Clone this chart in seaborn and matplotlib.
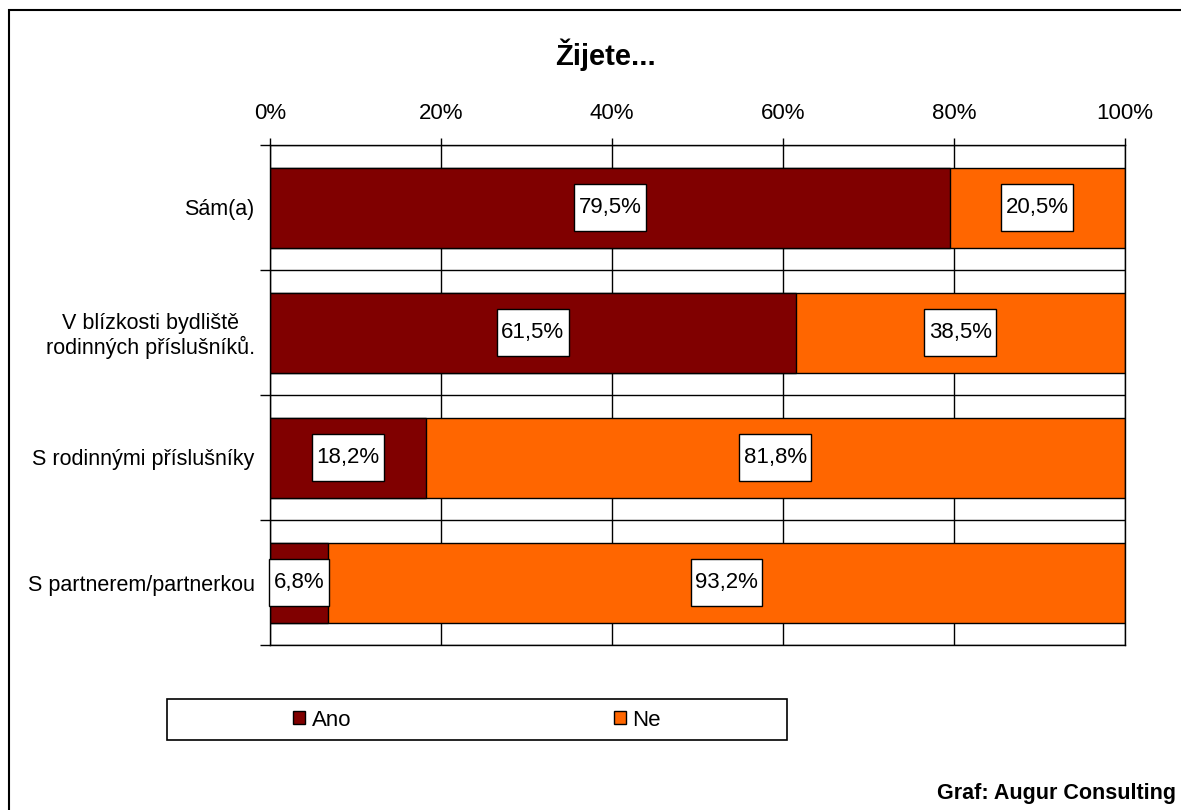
import matplotlib
matplotlib.use('Agg')
import numpy as np
import pandas as pd
import matplotlib.pyplot as plt
import seaborn as sns
from matplotlib.patches import Rectangle, Patch
from matplotlib.path import Path

# data
kategorie = ['Sám(a)', 'V blízkosti bydliště\nrodinných příslušníků.',
             'S rodinnými příslušníky', 'S partnerem/partnerkou']
ano = [79.5, 61.5, 18.2, 6.8]
ne = [20.5, 38.5, 81.8, 93.2]
x_ticks = [0, 20, 40, 60, 80, 100]

barva_ano = '#800000'
barva_ne = '#FF6600'

sns.set_theme(style='white')
plt.rcParams['font.family'] = ['Liberation Sans', 'DejaVu Sans']
plt.rcParams['text.color'] = 'black'
plt.rcParams['xtick.color'] = 'black'
plt.rcParams['ytick.color'] = 'black'
plt.rcParams['xtick.labelcolor'] = 'black'
plt.rcParams['ytick.labelcolor'] = 'black'

df = pd.DataFrame({'kategorie': kategorie, 'ano': ano, 'ne': ne})
df['celkem'] = df['ano'] + df['ne']

fig = plt.figure(figsize=(11.81, 8.10), dpi=100)
ax = fig.add_axes([270/1181, 1-645/810, 855/1181, 500/810])

# stacked bars: total (Ne) underneath, Ano on top
sns.barplot(data=df, y='kategorie', x='celkem', color=barva_ne, saturation=1,
            width=0.64, edgecolor='black', linewidth=1, orient='h', ax=ax)
sns.barplot(data=df, y='kategorie', x='ano', color=barva_ano, saturation=1,
            width=0.64, edgecolor='black', linewidth=1, orient='h', ax=ax)

ax.set_xlim(0, 100)
ax.set_ylim(len(kategorie) - 0.5, -0.5)
ax.set_xlabel('')
ax.set_ylabel('')

ax.xaxis.tick_top()
ax.set_xticks(x_ticks)
ax.set_xticklabels([f'{v}%' for v in x_ticks], fontsize=16)
ax.tick_params(axis='x', top=True, bottom=False, labeltop=True, labelbottom=False,
               length=5, width=1, direction='out', color='black', pad=10)

ax.set_yticks(range(len(kategorie)))
ax.set_yticklabels(kategorie, fontsize=15.5, linespacing=1.12, multialignment='center')
ax.set_yticks(np.arange(-0.5, len(kategorie), 1), minor=True)
ax.tick_params(axis='y', which='major', length=0, pad=11, left=False)
ax.tick_params(axis='y', which='minor', length=7, width=1, direction='out',
               color='black', left=True)

ax.set_axisbelow(True)
ax.grid(axis='x', which='major', color='black', linewidth=1)
ax.grid(axis='y', which='minor', color='black', linewidth=1)
ax.grid(axis='y', which='major', visible=False)
for s in ax.spines.values():
    s.set_color('black')
    s.set_linewidth(1)


def rámeček(x0, y0, width, height, mutation_size):
    px = 0.2 * mutation_size
    py = 0.6 * mutation_size
    return Path([(x0 - px, y0 - py), (x0 + width + px, y0 - py),
                 (x0 + width + px, y0 + height + py), (x0 - px, y0 + height + py),
                 (x0 - px, y0 - py)], closed=True)


for i, (a, n) in enumerate(zip(ano, ne)):
    for stred, hodnota in [(a / 2, a), (a + n / 2, n)]:
        ax.text(stred, i, f'{hodnota:.1f}%'.replace('.', ','), ha='center', va='center',
                fontsize=16, color='black', zorder=5,
                bbox=dict(boxstyle=rámeček, fc='white', ec='black', lw=1))

# title and footer
fig.text(605/1181, 1-55/810, 'Žijete...', ha='center', va='center',
         fontsize=21, fontweight='bold')
fig.text(1176/1181, 1-793/810, 'Graf: Augur Consulting', ha='right', va='center',
         fontsize=15.5, fontweight='bold')

# legend
handles = [Patch(facecolor=barva_ano, edgecolor='black', linewidth=1),
           Patch(facecolor=barva_ne, edgecolor='black', linewidth=1)]
fig.legend(handles, ['Ano', 'Ne'], loc='center', bbox_to_anchor=(477/1181, 1-720/810),
           ncol=2, frameon=False, fontsize=16, handlelength=0.55, handleheight=0.55,
           handletextpad=0.3, columnspacing=11.8)
fig.patches.append(Rectangle((167/1181, 1-740/810), 620/1181, 41/810,
                             transform=fig.transFigure, fill=False,
                             edgecolor='black', linewidth=1.2))

# outer border
fig.patches.append(Rectangle((9/1181, -0.02), 1.0, 1-10/810 + 0.02,
                             transform=fig.transFigure, fill=False,
                             edgecolor='black', linewidth=1.5))

fig.savefig('out.png', dpi=100)
